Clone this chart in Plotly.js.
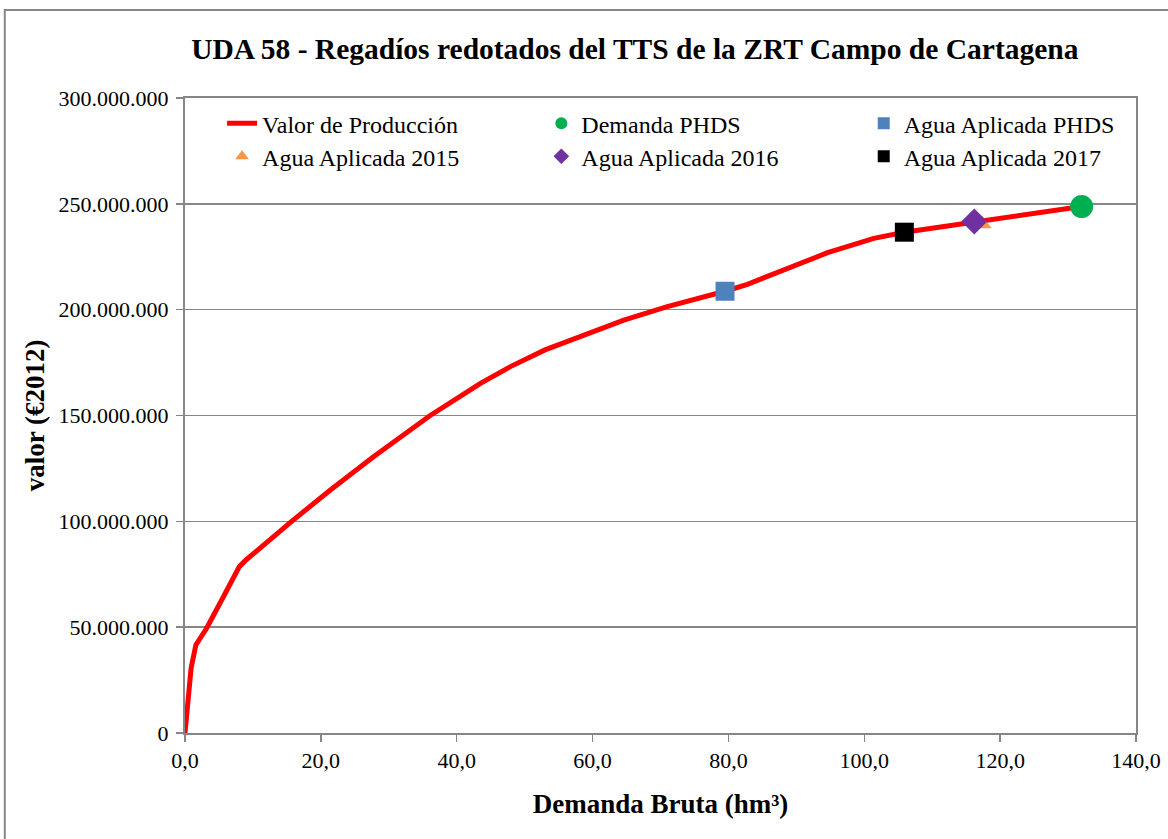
<!DOCTYPE html>
<html>
<head>
<meta charset="utf-8">
<script src="https://cdn.plot.ly/plotly-3.0.1.min.js"></script>
<style>html,body{margin:0;padding:0;background:#fff;}#chart{width:1168px;height:839px;}</style>
</head>
<body>
<div id="chart"></div>
<script>
// Curve: Valor de Producción
const curveX = [0, 0.9, 1.6, 3.2, 5.6, 8.0, 9.1, 12.5, 15.7, 21.4, 27.75, 36.1, 43.5, 47.9, 53.0, 64.6, 71.0, 79.5, 82.8, 94.6, 101.4, 105.9, 116.3, 132.0];
const curveY = [0, 30.7e6, 41.6e6, 49.6e6, 64.0e6, 78.6e6, 82.1e6, 91.5e6, 100.0e6, 114.8e6, 130.5e6, 150.0e6, 165.2e6, 173.1e6, 181.0e6, 195.1e6, 201.4e6, 208.7e6, 212.0e6, 226.9e6, 233.7e6, 236.6e6, 241.6e6, 248.7e6];

// Single points
const demandaPHDS = {x: [132.0], y: [248.7e6]};
const aguaPHDS = {x: [79.5], y: [208.7e6]};
const agua2015 = {x: [117.4], y: [240.4e6]};
const agua2016 = {x: [116.2], y: [241.6e6]};
const agua2017 = {x: [105.9], y: [236.6e6]};

const xTicks = [0, 20, 40, 60, 80, 100, 120, 140];
const yTicks = [0, 50e6, 100e6, 150e6, 200e6, 250e6, 300e6];

const serif = "'Liberation Serif', 'Times New Roman', serif";

const traces = [
  {x: curveX, y: curveY, type: 'scatter', mode: 'lines', name: 'Valor de Producción',
   line: {color: '#ff0000', width: 5}, legend: 'legend'},
  {x: demandaPHDS.x, y: demandaPHDS.y, type: 'scatter', mode: 'markers', name: 'Demanda PHDS',
   marker: {symbol: 'circle', color: '#00b050', size: 23}, legend: 'legend2'},
  {x: aguaPHDS.x, y: aguaPHDS.y, type: 'scatter', mode: 'markers', name: 'Agua Aplicada PHDS',
   marker: {symbol: 'square', color: '#4f81bd', size: 19}, legend: 'legend3'},
  {x: agua2015.x, y: agua2015.y, type: 'scatter', mode: 'markers', name: 'Agua Aplicada 2015',
   marker: {symbol: 'triangle-up', color: '#f79646', size: 16}, legend: 'legend4'},
  {x: agua2016.x, y: agua2016.y, type: 'scatter', mode: 'markers', name: 'Agua Aplicada 2016',
   marker: {symbol: 'diamond', color: '#7030a0', size: 20}, legend: 'legend5'},
  {x: agua2017.x, y: agua2017.y, type: 'scatter', mode: 'markers', name: 'Agua Aplicada 2017',
   marker: {symbol: 'square', color: '#000000', size: 19}, legend: 'legend6'}
];

function leg(x, y) {
  return {
    orientation: 'v', yanchor: 'top', xanchor: 'left', x: x, y: y,
    bgcolor: 'rgba(0,0,0,0)', borderwidth: 0,
    font: {family: serif, size: 24, color: '#000'}, itemsizing: 'constant'
  };
}
const row1 = 0.995, row2 = 0.943;
const col1 = 0.039, col2 = 0.3747, col3 = 0.7137;

const layout = {
  width: 1168, height: 839,
  margin: {l: 185, r: 32, t: 98, b: 106},
  paper_bgcolor: '#ffffff', plot_bgcolor: '#ffffff',
  separators: ',.',
  font: {family: serif, size: 22, color: '#000'},
  title: {text: '<b>UDA 58 - Regadíos redotados del TTS de la ZRT Campo de Cartagena</b>',
          font: {family: serif, size: 29.5, color: '#000'}, x: 0.5435, xanchor: 'center', y: 0.942, yanchor: 'middle'},
  xaxis: {
    range: [0, 140], tickvals: xTicks, tickformat: '.1f',
    showgrid: false, zeroline: false,
    showline: true, linecolor: '#868686', linewidth: 2, mirror: true,
    ticks: 'outside', ticklen: 7, tickcolor: '#868686', tickwidth: 1.5,
    tickfont: {family: serif, size: 22, color: '#000'}, ticklabelstandoff: 0,
    title: {text: '<b>Demanda Bruta (hm³)</b>', font: {family: serif, size: 27, color: '#000'}, standoff: 22}
  },
  yaxis: {
    range: [0, 300e6], tickvals: yTicks, tickformat: ',d',
    showgrid: true, gridcolor: '#868686', gridwidth: 1.5, zeroline: false,
    showline: true, linecolor: '#868686', linewidth: 2, mirror: true,
    ticks: 'outside', ticklen: 7, tickcolor: '#868686', tickwidth: 1.5,
    tickfont: {family: serif, size: 22, color: '#000'}, ticklabelstandoff: 3,
    title: {text: '<b>valor (€2012)</b>', font: {family: serif, size: 27, color: '#000'}, standoff: 6}
  },
  legend: leg(col1, row1),
  legend2: leg(col2, row1),
  legend3: leg(col3, row1),
  legend4: leg(col1, row2),
  legend5: leg(col2, row2),
  legend6: leg(col3, row2),
  showlegend: true,
  shapes: [
    {type: 'rect', xref: 'paper', yref: 'paper', x0: -0.1895, x1: 1.2, y0: -0.3, y1: 1.1386,
     line: {color: '#868686', width: 2}, fillcolor: 'rgba(0,0,0,0)', layer: 'below'}
  ]
};

Plotly.newPlot('chart', traces, layout, {displayModeBar: false, staticPlot: true});
</script>
</body>
</html>
